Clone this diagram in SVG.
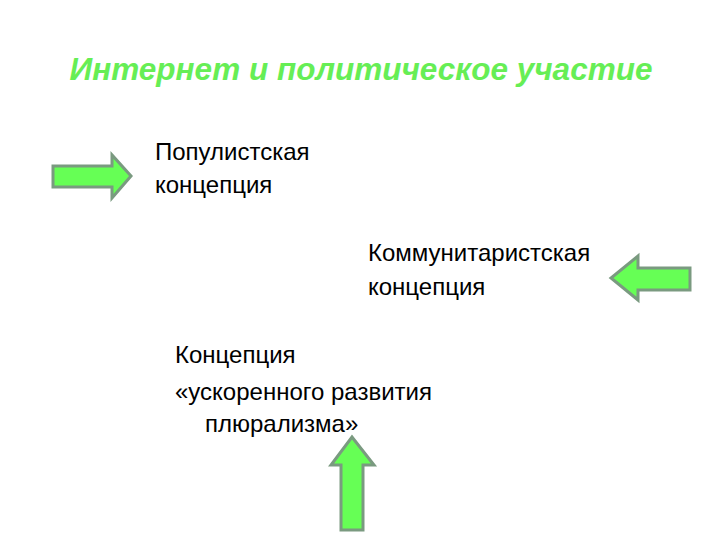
<svg xmlns="http://www.w3.org/2000/svg" width="720" height="540" viewBox="0 0 720 540">
<style>
.a{fill:#66ff55;stroke:#7a9a80;stroke-width:3;stroke-linejoin:miter}
.t{font-family:"Liberation Sans",Arial,sans-serif;font-size:24px;fill:#000}
.h{font-family:"Liberation Sans",Arial,sans-serif;font-size:31.5px;font-weight:bold;font-style:italic;fill:#66ee55}
</style>
<rect width="720" height="540" fill="#fff"/>
<text class="h" x="361" y="80" text-anchor="middle">Интернет и политическое участие</text>
<g id="n1"><text class="t" x="155" y="160">Популистская</text><text class="t" x="155" y="193">концепция</text></g>
<g id="n2"><text class="t" x="368" y="261">Коммунитаристская</text><text class="t" x="368" y="295">концепция</text></g>
<g id="n3"><text class="t" x="175" y="363">Концепция</text><text class="t" x="175" y="400">«ускоренного развития</text><text class="t" x="205" y="432">плюрализма»</text></g>
<g id="connectors">
<polygon class="a" points="53,166 112,166 112,155 131,176 112,198 112,187 53,187"/>
<polygon class="a" points="690,268 638,268 638,256 611,278 638,300 638,290 690,290"/>
<polygon class="a" points="341,530 341,465 331,465 352,437 374,465 363,465 363,530"/>
</g>
</svg>
